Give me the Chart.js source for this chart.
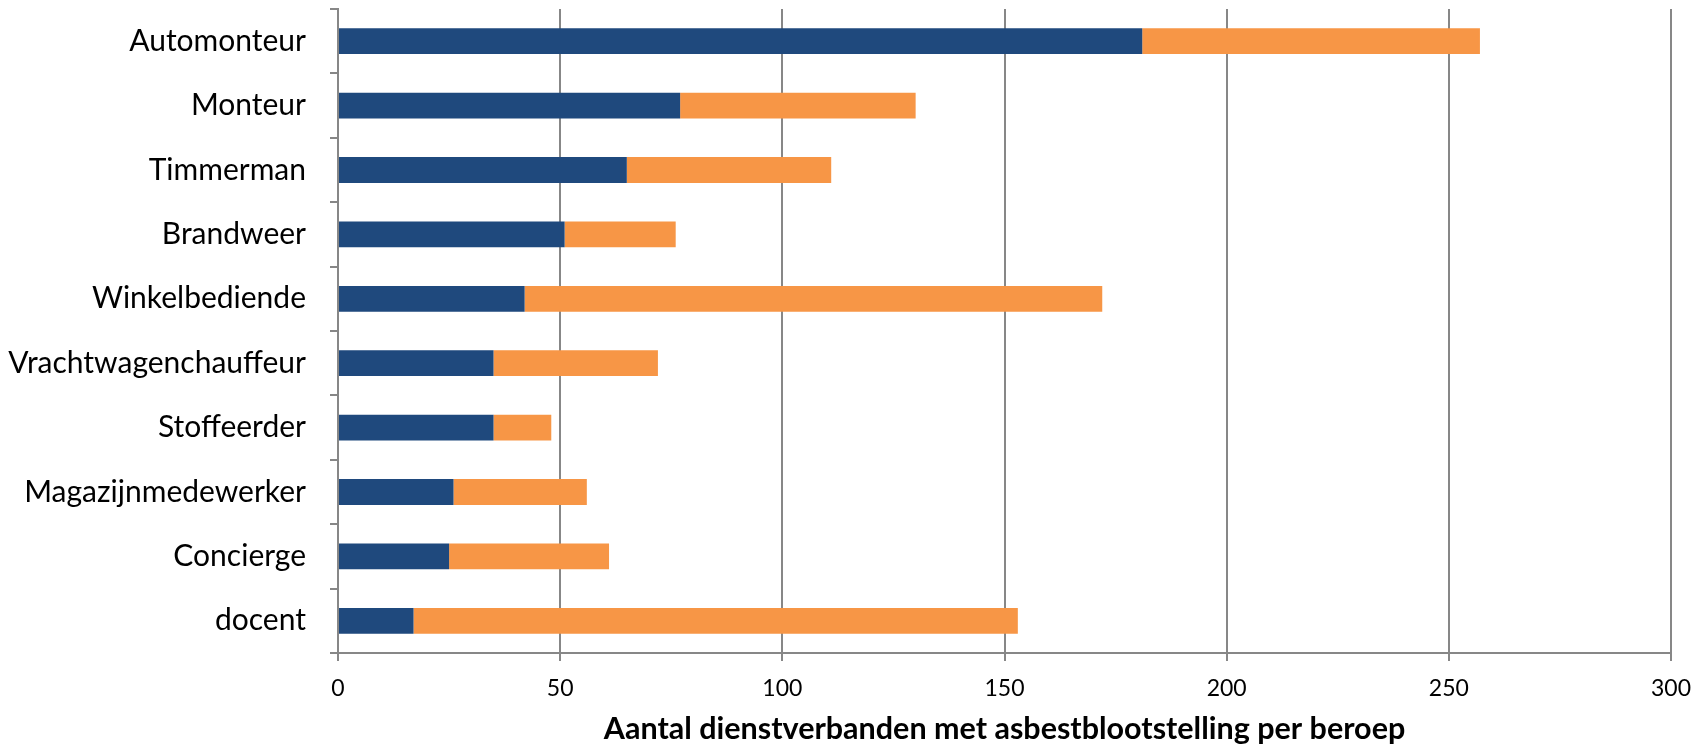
<!DOCTYPE html>
<html>
<head>
<meta charset="utf-8">
<script src="https://cdn.jsdelivr.net/npm/chart.js@4/dist/chart.umd.min.js"></script>
<style>
  html, body { margin: 0; padding: 0; background: #ffffff; }
  #wrap { width: 1707px; height: 747px; position: relative; }
</style>
</head>
<body>
<div id="wrap"><canvas id="c" width="1707" height="747"></canvas></div>
<script>
const categories = ["Automonteur", "Monteur", "Timmerman", "Brandweer", "Winkelbediende",
  "Vrachtwagenchauffeur", "Stoffeerder", "Magazijnmedewerker", "Concierge", "docent"];
const seriesBlue = [181, 77, 65, 51, 42, 35, 35, 26, 25, 17];
const seriesOrange = [76, 53, 46, 25, 130, 37, 13, 30, 36, 136];
const xTicks = [0, 50, 100, 150, 200, 250, 300];
const xTitle = "Aantal dienstverbanden met asbestblootstelling per beroep";

const gridColor = "#878787";
const fontFamily = "Lato, 'Open Sans', sans-serif";

new Chart(document.getElementById("c"), {
  type: "bar",
  data: {
    labels: categories,
    datasets: [
      { label: "A", data: seriesBlue, backgroundColor: "#1F497D", barPercentage: 0.4, categoryPercentage: 1.0 },
      { label: "B", data: seriesOrange, backgroundColor: "#F79646", barPercentage: 0.4, categoryPercentage: 1.0 }
    ]
  },
  options: {
    indexAxis: "y",
    responsive: false,
    animation: false,
    devicePixelRatio: 1,
    layout: { padding: { left: 0, right: 36, top: 9, bottom: 0 } },
    plugins: { legend: { display: false }, tooltip: { enabled: false } },
    scales: {
      x: {
        stacked: true,
        min: 0, max: 300,
        afterBuildTicks(scale) { scale.ticks = xTicks.map(v => ({ value: v })); },
        afterFit(scale) { scale.height = 94; scale.paddingLeft = 0; scale.paddingRight = 0; },
        grid: { color: gridColor, lineWidth: 2, tickLength: 8, drawOnChartArea: true },
        border: { display: true, color: gridColor, width: 2 },
        ticks: { color: "#000", font: { family: fontFamily, size: 23 }, padding: 14 },
        title: {
          display: true, text: xTitle, color: "#000",
          font: { family: fontFamily, size: 30.5, weight: "bold" },
          padding: { top: 0, bottom: 0 }
        }
      },
      y: {
        stacked: true,
        afterFit(scale) { scale.width = 338; scale.paddingTop = 0; scale.paddingBottom = 0; },
        grid: { color: gridColor, lineWidth: 2, tickLength: 8, drawOnChartArea: false, offset: true },
        border: { display: true, color: gridColor, width: 2 },
        ticks: { color: "#000", font: { family: fontFamily, size: 30 }, padding: 24 }
      }
    }
  }
});
</script>
</body>
</html>
